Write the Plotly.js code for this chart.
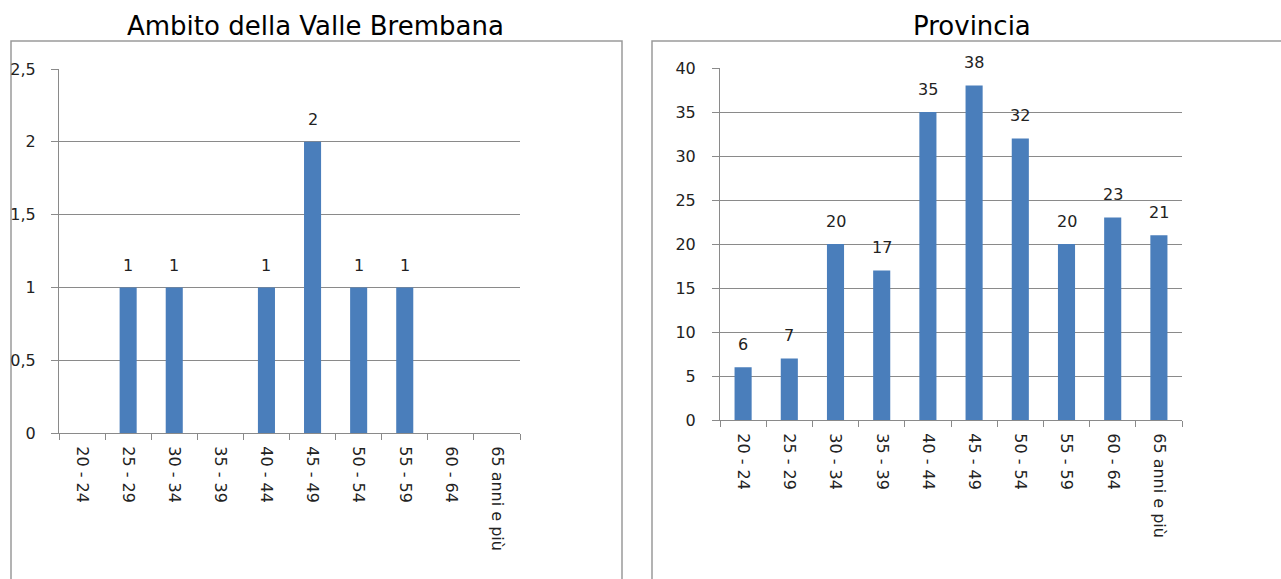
<!DOCTYPE html>
<html>
<head>
<meta charset="utf-8">
<script src="https://cdn.plot.ly/plotly-3.0.1.min.js"></script>
<style>
html,body{margin:0;padding:0;background:#fff;}
#chart{width:1281px;height:579px;}
</style>
</head>
<body>
<div id="chart"></div>
<script>
var categories = ["20 - 24","25 - 29","30 - 34","35 - 39","40 - 44","45 - 49","50 - 54","55 - 59","60 - 64","65 anni e più"];
var valleValues = [0,1,1,0,1,2,1,1,0,0];
var provinciaValues = [6,7,20,17,35,38,32,20,23,21];
var titleLeft = "Ambito della Valle Brembana";
var titleRight = "Provincia";
var leftTicks = [0,0.5,1,1.5,2,2.5];
var rightTicks = [0,5,10,15,20,25,30,35,40];

var W = 1281, H = 579;
function px(x){return x/W;}
function py(y){return 1 - y/H;}

var FONT = "DejaVu Sans, Verdana, sans-serif";
var barColor = "#4a7ebb";
var gridColor = "#8a8a8a";

var traces = [
  {type:"bar", x:categories, y:valleValues, xaxis:"x", yaxis:"y",
   marker:{color:barColor}, hoverinfo:"x+y"},
  {type:"bar", x:categories, y:provinciaValues, xaxis:"x2", yaxis:"y2",
   marker:{color:barColor}, hoverinfo:"x+y"}
];

var annotations = [];
valleValues.forEach(function(v,i){
  if(v>0) annotations.push({xref:"x", yref:"y", x:categories[i], y:v, text:String(v),
    showarrow:false, yanchor:"middle", yshift:22, font:{family:FONT,size:16,color:"#222"}});
});
provinciaValues.forEach(function(v,i){
  if(v>0) annotations.push({xref:"x2", yref:"y2", x:categories[i], y:v, text:String(v),
    showarrow:false, yanchor:"middle", yshift:23, font:{family:FONT,size:16,color:"#222"}});
});
annotations.push({xref:"paper", yref:"paper", x:px(315), y:py(26), text:titleLeft, showarrow:false,
  xanchor:"center", yanchor:"middle", font:{family:FONT,size:26,color:"#000"}});
annotations.push({xref:"paper", yref:"paper", x:px(972), y:py(26), text:titleRight, showarrow:false,
  xanchor:"center", yanchor:"middle", font:{family:FONT,size:26,color:"#000"}});

function xAxis(domain, anchor){
  return {domain:domain, anchor:anchor, type:"category", showgrid:false,
    showline:true, linecolor:gridColor, linewidth:1,
    ticks:"outside", tickson:"boundaries", ticklen:6, tickcolor:gridColor,
    tickangle:90, tickfont:{family:FONT,size:16,color:"#222"},
    ticklabelstandoff:9, fixedrange:true, zeroline:false};
}
function yAxis(domain, anchor, range, ticks, standoff){
  return {domain:domain, anchor:anchor, range:range, tickvals:ticks,
    showgrid:true, gridcolor:gridColor, gridwidth:1,
    showline:true, linecolor:gridColor, linewidth:1,
    ticks:"outside", ticklen:7, tickcolor:gridColor,
    tickfont:{family:FONT,size:16,color:"#222"}, ticklabelstandoff:standoff,
    zeroline:false, fixedrange:true};
}

var layout = {
  width:W, height:H, margin:{l:0,r:0,t:0,b:0},
  paper_bgcolor:"#fff", plot_bgcolor:"#fff",
  showlegend:false, bargap:0.63, separators:",.",
  xaxis: xAxis([px(59),px(520)], "y"),
  yaxis: yAxis([py(433),py(69)], "x", [0,2.5], leftTicks, 12),
  xaxis2: xAxis([px(720),px(1182)], "y2"),
  yaxis2: yAxis([py(420),py(68)], "x2", [0,40], rightTicks, 13),
  annotations: annotations,
  shapes:[
    {type:"rect", xref:"paper", yref:"paper", x0:px(11), x1:px(622), y0:py(41), y1:py(600),
     line:{color:"#9a9a9a",width:1.5}, fillcolor:"rgba(0,0,0,0)", layer:"below"},
    {type:"rect", xref:"paper", yref:"paper", x0:px(652), x1:px(1300), y0:py(41), y1:py(600),
     line:{color:"#9a9a9a",width:1.5}, fillcolor:"rgba(0,0,0,0)", layer:"below"}
  ]
};

Plotly.newPlot("chart", traces, layout, {displayModeBar:false, staticPlot:true});
</script>
</body>
</html>
